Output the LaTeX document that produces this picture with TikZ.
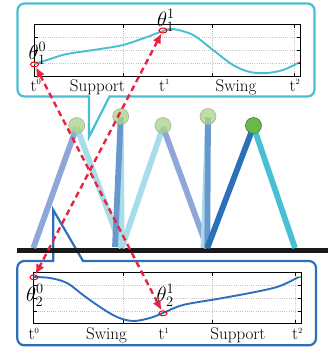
\documentclass[tikz,border=0pt]{standalone}
\usetikzlibrary{arrows.meta,shapes.geometric}
\definecolor{boxcyan}{RGB}{73,190,210}
\definecolor{boxblue}{RGB}{45,112,185}
\definecolor{legA}{RGB}{143,167,216}
\definecolor{legB}{RGB}{166,221,232}
\definecolor{legC}{RGB}{104,152,205}
\definecolor{legD}{RGB}{44,112,186}
\definecolor{legE}{RGB}{72,191,211}
\definecolor{hipghost}{RGB}{172,212,140}
\definecolor{hipsolid}{RGB}{104,186,70}
\definecolor{arrowred}{RGB}{236,34,66}
\definecolor{gridgray}{RGB}{195,195,195}
\begin{document}
\begin{tikzpicture}[x=1pt,y=-1pt,
  callout/.style={line width=2.2pt,line join=miter},
  axesframe/.style={draw=black,line width=0.7pt},
  gridline/.style={draw=gridgray,line width=0.6pt,dash pattern=on 1pt off 1.2pt},
  tickmark/.style={draw=black,line width=0.5pt},
  leg/.style={line width=5.8pt},
  ghosthip/.style={circle,minimum size=16pt,inner sep=0pt,fill=hipghost,fill opacity=0.8,draw=gray!70,line width=0.5pt},
  solidhip/.style={circle,minimum size=16pt,inner sep=0pt,fill=hipsolid,draw=black!60,line width=0.6pt},
  marker/.style={ellipse,draw=red,line width=1pt,minimum width=8pt,minimum height=5pt,inner sep=0pt},
  redlink/.style={draw=arrowred,line width=2.4pt,dash pattern=on 6pt off 4pt,
    arrows={Latex[length=10pt,width=9pt]-Latex[length=10pt,width=9pt]}},
  axislabel/.style={inner sep=0pt,anchor=base,font=\fontsize{17}{20}\selectfont},
  tlabel/.style={inner sep=0pt,anchor=base west,font=\fontsize{17}{20}\selectfont},
  thlabel/.style={inner sep=0pt,anchor=base west,font=\fontsize{20}{24}\selectfont}]
\useasboundingbox (0,0) rectangle (328,349);

% ---------- upper joint trajectory ----------
\foreach \yy in {37.3,50.3,63.3}{
  \draw[gridline] (34.3,\yy) -- (300,\yy);
  \draw[tickmark] (300,\yy) -- (296.5,\yy);
  \draw[tickmark] (34.3,\yy) -- (37.8,\yy);}
\foreach \xx in {123.3,212,294}{
  \draw[gridline] (\xx,24.3) -- (\xx,76.7);
  \draw[tickmark] (\xx,24.3) -- (\xx,27.8);
  \draw[tickmark] (\xx,76.7) -- (\xx,73.2);}
\draw[axesframe] (34.3,24.3) rectangle (300,76.7);
\draw[boxcyan,line width=1.9pt] plot[smooth,tension=0.55] coordinates {
  (34.3,64) (50,59) (67,54) (100,49) (123,45) (147,37) (163,31) (173,29)
  (193,35) (213,50) (233,65) (250,72) (267,73) (283,70) (298,63)};
\draw[magenta!70,line width=1.2pt] (297,63.3) -- (300,62);

\node[tlabel] (ut0) at (30.5,91) {t$^{\scriptscriptstyle 0}$};
\node[axislabel] (usup) at (97.5,91) {Support};
\node[tlabel] (ut1) at (159,91) {t$^{\scriptscriptstyle 1}$};
\node[axislabel] (uswg) at (236,91) {Swing};
\node[tlabel] (ut2) at (289.5,91) {t$^{\scriptscriptstyle 2}$};
\node[thlabel] (uth0) at (28.5,59) {$\theta_1^0$};
\node[thlabel] (uth1) at (157,26.5) {$\theta_1^1$};
\node[marker] (p10) at (34.5,64.3) {};
\node[marker] (p11) at (163,30.5) {};

% ---------- lower joint trajectory ----------
\foreach \yy in {285,298.3,311}{
  \draw[gridline] (33.3,\yy) -- (301,\yy);
  \draw[tickmark] (301,\yy) -- (297.5,\yy);
  \draw[tickmark] (33.3,\yy) -- (36.8,\yy);}
\foreach \xx in {123.3,212,295}{
  \draw[gridline] (\xx,272.3) -- (\xx,323.5);
  \draw[tickmark] (\xx,272.3) -- (\xx,275.8);
  \draw[tickmark] (\xx,323.5) -- (\xx,320);}
\draw[axesframe] (33.3,272.3) rectangle (301,323.5);
\draw[boxblue,line width=1.9pt] plot[smooth,tension=0.55] coordinates {
  (33.3,277) (50,278) (67,283) (83,295) (100,307) (117,317) (133,321)
  (150,318) (163,313) (183,305) (217,299) (250,293) (277,287) (293,280) (298,277.3)};
\draw[green!60!black,line width=1.2pt] (297.5,277.3) -- (301,277);

\node[tlabel] (lt0) at (28.5,339.5) {t$^{\scriptscriptstyle 0}$};
\node[axislabel] (lswg) at (106.5,339.5) {Swing};
\node[tlabel] (lt1) at (158.5,339.5) {t$^{\scriptscriptstyle 1}$};
\node[axislabel] (lsup) at (238,339.5) {Support};
\node[tlabel] (lt2) at (292,339.5) {t$^{\scriptscriptstyle 2}$};
\node[thlabel] (lth0) at (26,301) {$\theta_2^0$};
\node[thlabel] (lth1) at (156.5,301.5) {$\theta_2^1$};
\node[marker] (p20) at (34,277.3) {};
\node[marker] (p21) at (163,313.3) {};

% ---------- callout frames ----------
\draw[callout,boxcyan] (50,96.5) -- (89,96.5) -- (89,137) -- (109.5,96.5) -- (200,96.5)
  [rounded corners=7pt] -- (314.5,96.5) -- (314.5,3.5) -- (17.5,3.5) -- (17.5,96.5) -- cycle;
\draw[callout,boxblue] (30,261) -- (53.3,261) -- (53.3,210) -- (83,261) -- (150,261)
  [rounded corners=7pt] -- (316,261) -- (316,345.3) -- (17.3,345.3) -- (17.3,261) -- cycle;

% ---------- ground ----------
\coordinate (g0) at (17,250.8);
\coordinate (g1) at (328,250.8);
\draw[line width=5pt,black!90] (g0) -- (g1);

% ---------- stance sequence: feet ----------
\coordinate (f1) at (33.3,248);
\coordinate (f2) at (121.7,248);
\coordinate (f2b) at (115,247);
\coordinate (f3) at (207.3,248);
\coordinate (f4b) at (203.5,248);
\coordinate (f5) at (295,248);

% hips
\coordinate (h1) at (76.7,127);
\coordinate (h2) at (120.7,117.5);
\coordinate (h3) at (163,127);
\coordinate (h4) at (208,117.5);
\coordinate (h5) at (253.5,126.5);

% legs
\draw[leg,legA] (h1) -- (f1);
\draw[leg,legB] (h1) -- (f2);
\draw[leg,legB] (h2) -- (f2);
\draw[leg,legC] (h2) -- (f2b);
\draw[leg,legB] (h3) -- (f2);
\draw[leg,legA] (h3) -- (f3);
\draw[leg,legB] (h4) -- (f4b);
\draw[leg,legC] (h4) -- (f3);
\draw[leg,legD] (h5) -- (f3);
\draw[leg,legE] (h5) -- (f5);

\node[ghosthip] (c1) at (76.7,125.5) {};
\node[ghosthip] (c2) at (120.7,116.5) {};
\node[ghosthip] (c3) at (163,125.5) {};
\node[ghosthip] (c4) at (208,116.5) {};
\node[solidhip] (c5) at (253.5,125.5) {};

% ---------- correspondence arrows ----------
\draw[redlink] (p10) -- (p21);
\draw[redlink] (p11) -- (p20);
\end{tikzpicture}
\end{document}
